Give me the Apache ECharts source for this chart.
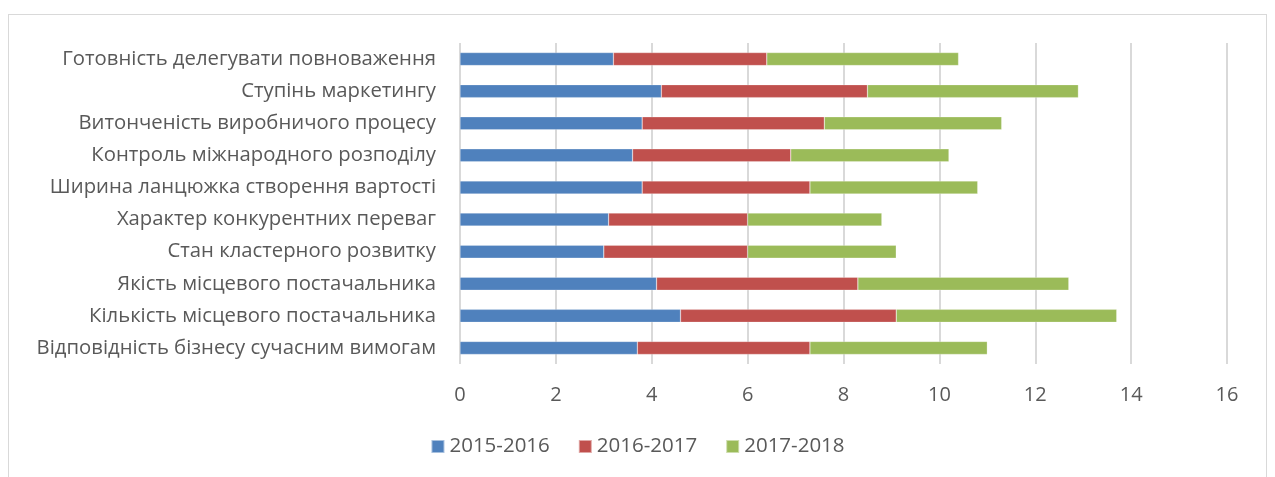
<!DOCTYPE html>
<html>
<head>
<meta charset="utf-8">
<script src="https://cdn.jsdelivr.net/npm/echarts@6/dist/echarts.min.js"></script>
<style>
  html, body { margin: 0; padding: 0; background: #fff; }
  #frame { position: absolute; left: 8px; top: 14px; width: 1259px; height: 480px; border: 1px solid #d9d9d9; box-sizing: border-box; }
  #main { position: absolute; left: 0; top: 0; width: 1275px; height: 477px; }
</style>
</head>
<body>
<div id="frame"></div>
<div id="main"></div>
<script>
// категорії знизу вгору (так рахує вісь ECharts)
var categories = [
  'Відповідність бізнесу сучасним вимогам',
  'Кількість місцевого постачальника',
  'Якість місцевого постачальника',
  'Стан кластерного розвитку',
  'Характер конкурентних переваг',
  'Ширина ланцюжка створення вартості',
  'Контроль міжнародного розподілу',
  'Витонченість виробничого процесу',
  'Ступінь маркетингу',
  'Готовність делегувати повноваження'
];
var seriesNames = ['2015-2016', '2016-2017', '2017-2018'];
var v2015 = [3.7, 4.6, 4.1, 3.0, 3.1, 3.8, 3.6, 3.8, 4.2, 3.2];
var v2016 = [3.6, 4.5, 4.2, 3.0, 2.9, 3.5, 3.3, 3.8, 4.3, 3.2];
var v2017 = [3.7, 4.6, 4.4, 3.1, 2.8, 3.5, 3.3, 3.7, 4.4, 4.0];
var xTicks = [0, 2, 4, 6, 8, 10, 12, 14, 16];
var colors = ['#4f81bd', '#c0504d', '#9bbb59'];

var myChart = echarts.init(document.getElementById('main'));
var font = '"Open Sans", "Noto Sans", sans-serif';
var values = [v2015, v2016, v2017];

myChart.setOption({
  animation: false,
  textStyle: { fontFamily: font },
  color: colors,
  legend: {
    bottom: 15,
    left: 'center',
    itemWidth: 13,
    itemHeight: 13,
    itemGap: 28,
    icon: 'rect',
    textStyle: { fontSize: 20.5, color: '#595959', fontFamily: font },
    data: seriesNames
  },
  grid: { left: 460, right: 48, top: 43, bottom: 113, containLabel: false },
  xAxis: {
    type: 'value',
    min: xTicks[0],
    max: xTicks[xTicks.length - 1],
    interval: 2,
    axisLine: { show: false },
    axisTick: { show: false },
    axisLabel: { fontSize: 20, color: '#595959', margin: 21, fontFamily: font },
    splitLine: { show: true, lineStyle: { color: '#d9d9d9', width: 2 } }
  },
  yAxis: {
    type: 'category',
    data: categories,
    axisLine: { show: false },
    axisTick: { show: false },
    axisLabel: { fontSize: 20.3, color: '#595959', margin: 24, fontFamily: font }
  },
  series: seriesNames.map(function (name, i) {
    return {
      name: name,
      type: 'bar',
      stack: 'total',
      barWidth: 13,
      itemStyle: { borderColor: 'rgba(255,255,255,0.5)', borderWidth: 0.5 },
      data: values[i]
    };
  })
});
</script>
</body>
</html>
